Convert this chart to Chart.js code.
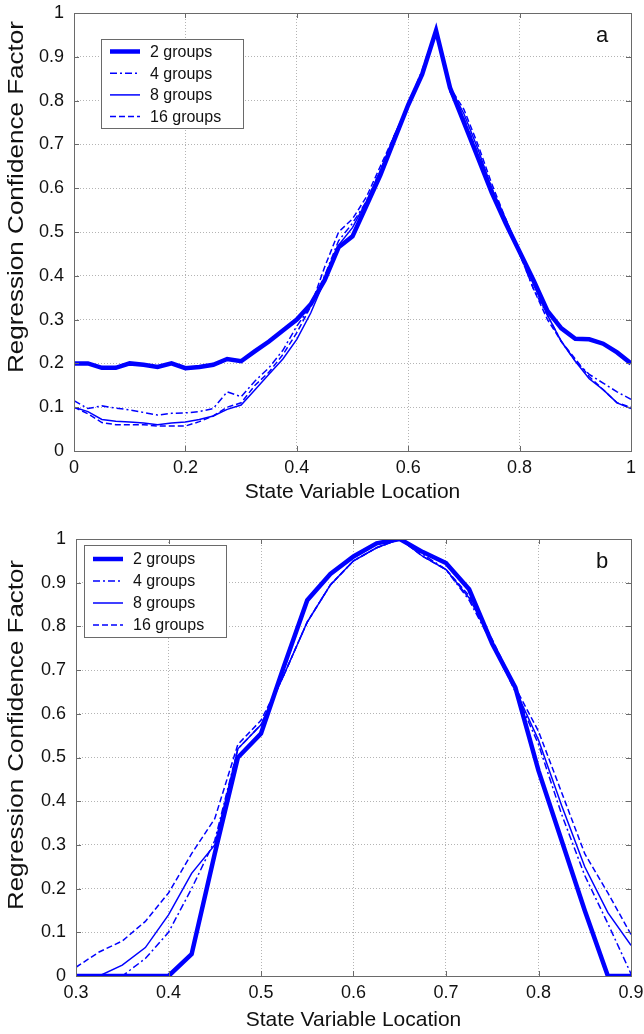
<!DOCTYPE html>
<html>
<head>
<meta charset="utf-8">
<script src="https://cdn.jsdelivr.net/npm/chart.js@4.4.1/dist/chart.umd.min.js"></script>
<style>
  html, body { margin: 0; padding: 0; background: #fff; }
  .panel { position: absolute; left: 0; width: 644px; }
  #panelA { top: 0; height: 520px; }
  #panelB { top: 520px; height: 514px; }
</style>
</head>
<body>
<div class="panel" id="panelA"><canvas id="chartA"></canvas></div>
<div class="panel" id="panelB"><canvas id="chartB"></canvas></div>
<script>
"use strict";

const SERIES_LABELS = ["2 groups", "4 groups", "8 groups", "16 groups"];

// panel a
const X_A = [0, 0.025, 0.05, 0.075, 0.1, 0.125, 0.15, 0.175, 0.2, 0.225, 0.25, 0.275, 0.3, 0.325,
  0.35, 0.375, 0.4, 0.425, 0.45, 0.475, 0.5, 0.525, 0.55, 0.575, 0.6, 0.625, 0.65, 0.675, 0.7,
  0.725, 0.75, 0.775, 0.8, 0.825, 0.85, 0.875, 0.9, 0.925, 0.95, 0.975, 1];
const A_2 = [0.20, 0.20, 0.19, 0.19, 0.20, 0.197, 0.192, 0.20, 0.189, 0.192, 0.197, 0.21, 0.205, 0.228,
  0.25, 0.275, 0.30, 0.335, 0.39, 0.465, 0.49, 0.56, 0.63, 0.71, 0.79, 0.86, 0.96, 0.83, 0.75,
  0.67, 0.59, 0.52, 0.455, 0.39, 0.32, 0.28, 0.256, 0.255, 0.245, 0.225, 0.20];
const A_4 = [0.115, 0.097, 0.103, 0.098, 0.094, 0.088, 0.082, 0.086, 0.087, 0.09, 0.097, 0.135, 0.124, 0.16,
  0.19, 0.23, 0.285, 0.33, 0.40, 0.48, 0.52, 0.57, 0.64, 0.72, 0.79, 0.87, 0.96, 0.82, 0.76,
  0.68, 0.60, 0.52, 0.45, 0.37, 0.31, 0.25, 0.205, 0.175, 0.155, 0.135, 0.118];
const A_8 = [0.10, 0.09, 0.072, 0.068, 0.066, 0.064, 0.060, 0.064, 0.066, 0.072, 0.08, 0.095, 0.105, 0.14,
  0.175, 0.21, 0.255, 0.315, 0.39, 0.47, 0.51, 0.57, 0.64, 0.72, 0.79, 0.86, 0.96, 0.83, 0.77,
  0.69, 0.60, 0.53, 0.455, 0.38, 0.31, 0.25, 0.205, 0.165, 0.14, 0.11, 0.097];
const A_16 = [0.10, 0.085, 0.065, 0.06, 0.06, 0.06, 0.057, 0.057, 0.057, 0.067, 0.08, 0.10, 0.11, 0.15,
  0.18, 0.22, 0.27, 0.33, 0.42, 0.50, 0.53, 0.58, 0.65, 0.72, 0.79, 0.86, 0.96, 0.83, 0.78,
  0.70, 0.61, 0.53, 0.45, 0.37, 0.30, 0.25, 0.21, 0.17, 0.14, 0.11, 0.10];
const X_TICKS_A = [0, 0.2, 0.4, 0.6, 0.8, 1];

// panel b
const X_B = [0.3, 0.325, 0.35, 0.375, 0.4, 0.425, 0.45, 0.475, 0.5, 0.525, 0.55, 0.575, 0.6,
  0.625, 0.65, 0.675, 0.7, 0.725, 0.75, 0.775, 0.8, 0.825, 0.85, 0.875, 0.9];
const B_2 = [0, 0, 0, 0, 0, 0.05, 0.28, 0.50, 0.555, 0.71, 0.86, 0.92, 0.96,
  0.99, 1.0, 0.97, 0.945, 0.885, 0.76, 0.66, 0.47, 0.31, 0.15, 0, 0];
const B_4 = [0, 0, 0, 0.04, 0.10, 0.20, 0.31, 0.52, 0.575, 0.69, 0.81, 0.895, 0.95,
  0.98, 1.0, 0.965, 0.93, 0.86, 0.76, 0.65, 0.53, 0.37, 0.23, 0.12, 0.005];
const B_8 = [0, 0, 0.025, 0.065, 0.14, 0.235, 0.30, 0.52, 0.575, 0.69, 0.81, 0.895, 0.95,
  0.98, 1.0, 0.96, 0.93, 0.865, 0.765, 0.655, 0.54, 0.39, 0.25, 0.145, 0.07];
const B_16 = [0.02, 0.055, 0.08, 0.125, 0.19, 0.28, 0.36, 0.53, 0.585, 0.69, 0.81, 0.895, 0.95,
  0.98, 1.0, 0.96, 0.93, 0.87, 0.77, 0.66, 0.56, 0.42, 0.28, 0.19, 0.095];
const X_TICKS_B = [0.3, 0.4, 0.5, 0.6, 0.7, 0.8, 0.9];

const Y_TICKS = [0, 0.1, 0.2, 0.3, 0.4, 0.5, 0.6, 0.7, 0.8, 0.9, 1];

const BLUE = "#0000ff";
const FONT = "'Liberation Sans', Arial, sans-serif";
const LINE_STYLES = [
  { borderWidth: 4.5, borderDash: [], order: 4 },
  { borderWidth: 1.5, borderDash: [7, 3, 2, 3], order: 3 },
  { borderWidth: 1.5, borderDash: [], order: 2 },
  { borderWidth: 1.5, borderDash: [6, 3], order: 1 }
];

Chart.defaults.font.family = FONT;
Chart.defaults.color = "#111";

function fmt(v) {
  return String(Number(v.toFixed(2)));
}

// box, inward tick marks, legend, panel tag, y title
const panelDecor = {
  id: "panelDecor",
  afterDraw(chart, args, opts) {
    const { ctx, chartArea: ca, scales } = chart;
    ctx.save();

    ctx.strokeStyle = "#6a6a6a";
    ctx.lineWidth = 1;
    ctx.setLineDash([]);
    ctx.beginPath();
    scales.x.ticks.forEach(t => {
      const px = Math.round(scales.x.getPixelForValue(t.value)) + 0.5;
      ctx.moveTo(px, ca.bottom); ctx.lineTo(px, ca.bottom - 5);
      ctx.moveTo(px, ca.top); ctx.lineTo(px, ca.top + 5);
    });
    scales.y.ticks.forEach(t => {
      const py = Math.round(scales.y.getPixelForValue(t.value)) + 0.5;
      ctx.moveTo(ca.left, py); ctx.lineTo(ca.left + 5, py);
      ctx.moveTo(ca.right, py); ctx.lineTo(ca.right - 5, py);
    });
    ctx.stroke();
    ctx.strokeRect(Math.round(ca.left) + 0.5, Math.round(ca.top) + 0.5,
      Math.round(ca.right - ca.left), Math.round(ca.bottom - ca.top));

    // legend
    const lg = opts.legend;
    const x0 = Math.round(ca.left + lg.dx), y0 = Math.round(ca.top + lg.dy);
    ctx.fillStyle = "#fff";
    ctx.fillRect(x0, y0, lg.w, lg.h);
    ctx.strokeRect(x0 + 0.5, y0 + 0.5, lg.w, lg.h);
    ctx.font = "16px " + FONT;
    ctx.textBaseline = "middle";
    chart.data.datasets.forEach((ds, i) => {
      const y = y0 + lg.rowTop + i * lg.rowGap;
      ctx.beginPath();
      ctx.setLineDash(ds.borderDash);
      ctx.lineWidth = ds.borderWidth;
      ctx.strokeStyle = ds.borderColor;
      ctx.moveTo(x0 + 9, y);
      ctx.lineTo(x0 + 39, y);
      ctx.stroke();
      ctx.setLineDash([]);
      ctx.fillStyle = "#111";
      ctx.fillText(ds.label, x0 + 49, y + 1);
    });

    // panel tag
    ctx.font = "22px " + FONT;
    ctx.textAlign = "center";
    ctx.fillText(opts.tag, ca.right - 29, ca.top + 23);

    // y title, stretched along its length like the original
    const yt = opts.yTitle;
    ctx.font = "22px " + FONT;
    const w = ctx.measureText(yt.text).width;
    ctx.translate(yt.x, yt.cy);
    ctx.rotate(-Math.PI / 2);
    ctx.scale(yt.length / w, 1);
    ctx.fillText(yt.text, 0, 0);
    ctx.restore();
  }
};

function makePanel(canvasId, cfg) {
  const datasets = cfg.series.map((ys, i) => ({
    label: SERIES_LABELS[i],
    data: cfg.xs.map((x, j) => ({ x, y: ys[j] })),
    borderColor: BLUE,
    borderWidth: LINE_STYLES[i].borderWidth,
    borderDash: LINE_STYLES[i].borderDash,
    order: LINE_STYLES[i].order,
    pointRadius: 0,
    tension: 0,
    fill: false
  }));

  return new Chart(document.getElementById(canvasId), {
    type: "line",
    data: { datasets },
    options: {
      responsive: true,
      maintainAspectRatio: false,
      animation: false,
      events: [],
      layout: { padding: cfg.padding },
      plugins: {
        legend: { display: false },
        tooltip: { enabled: false },
        panelDecor: { legend: cfg.legend, tag: cfg.tag, yTitle: cfg.yTitle }
      },
      scales: {
        x: {
          type: "linear",
          min: cfg.xTicks[0],
          max: cfg.xTicks[cfg.xTicks.length - 1],
          afterBuildTicks: axis => { axis.ticks = cfg.xTicks.map(v => ({ value: v })); },
          afterFit: axis => {
            axis.height = cfg.xAxisHeight;
            axis.paddingLeft = 0;
            axis.paddingRight = 0;
          },
          ticks: { font: { size: 18 }, padding: 6, maxRotation: 0, callback: v => fmt(v) },
          grid: { color: "#b4b4b4", lineWidth: 1, drawTicks: false },
          border: { display: false, dash: [1, 2] },
          title: {
            display: true,
            text: "State Variable Location",
            font: { size: 21 },
            padding: { top: 0, bottom: cfg.xTitlePad }
          }
        },
        y: {
          type: "linear",
          min: 0,
          max: 1,
          afterBuildTicks: axis => { axis.ticks = Y_TICKS.map(v => ({ value: v })); },
          afterFit: axis => {
            axis.width = cfg.yAxisWidth;
            axis.paddingTop = 0;
            axis.paddingBottom = 0;
          },
          ticks: { font: { size: 18 }, padding: 10, callback: v => fmt(v) },
          grid: { color: "#b4b4b4", lineWidth: 1, drawTicks: false },
          border: { display: false, dash: [1, 2] }
        }
      }
    },
    plugins: [panelDecor]
  });
}

makePanel("chartA", {
  xs: X_A,
  series: [A_2, A_4, A_8, A_16],
  xTicks: X_TICKS_A,
  padding: { left: 0, right: 13, top: 13, bottom: 2 },
  yAxisWidth: 74,
  xAxisHeight: 67,
  xTitlePad: 13,
  tag: "a",
  legend: { dx: 27, dy: 26, w: 142, h: 89, rowTop: 12.5, rowGap: 21.7 },
  yTitle: { text: "Regression Confidence Factor", x: 17, cy: 197, length: 352 }
});

makePanel("chartB", {
  xs: X_B,
  series: [B_2, B_4, B_8, B_16],
  xTicks: X_TICKS_B,
  padding: { left: 0, right: 13, top: 19, bottom: 0 },
  yAxisWidth: 76,
  xAxisHeight: 58,
  xTitlePad: 1,
  tag: "b",
  legend: { dx: 8, dy: 6, w: 142, h: 92, rowTop: 14, rowGap: 22 },
  yTitle: { text: "Regression Confidence Factor", x: 17, cy: 215, length: 350 }
});
</script>
</body>
</html>
